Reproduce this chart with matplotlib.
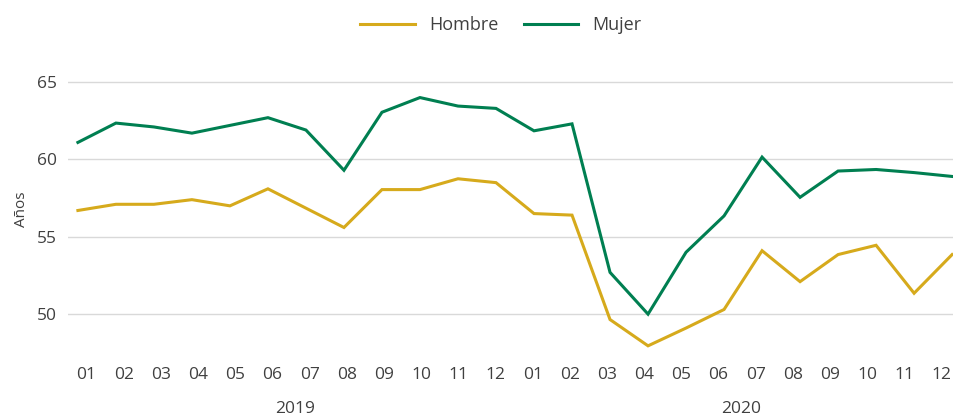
import matplotlib
matplotlib.use('Agg')
import matplotlib.pyplot as plt
import matplotlib.transforms as mtransforms

# data
months = ['01', '02', '03', '04', '05', '06', '07', '08', '09', '10', '11', '12'] * 2
years = ['2019', '2020']
hombre = [56.7, 57.1, 57.1, 57.4, 57.0, 58.1, 56.85, 55.6, 58.05, 58.05, 58.75, 58.5,
          56.5, 56.4, 49.65, 47.95, 49.1, 50.3, 54.1, 52.1, 53.85, 54.45, 51.35, 53.85]
mujer = [61.1, 62.35, 62.1, 61.7, 62.2, 62.7, 61.9, 59.3, 63.05, 64.0, 63.45, 63.3,
         61.85, 62.3, 52.7, 50.0, 54.0, 56.35, 60.15, 57.55, 59.25, 59.35, 59.15, 58.9]

plt.rcParams['font.family'] = ['Open Sans', 'DejaVu Sans']
TXT = '#404040'
YELLOW = '#d6aa1c'
GREEN = '#007f51'

fig = plt.figure(figsize=(9.54, 4.19), dpi=100)
ax = fig.add_axes([0.0713, 0.158, 0.9287, 0.683])

x = list(range(len(months)))
ax.plot(x, hombre, color=YELLOW, lw=2.2, label='Hombre', solid_joinstyle='miter', clip_on=False)
ax.plot(x, mujer, color=GREEN, lw=2.2, label='Mujer', solid_joinstyle='miter', clip_on=False)

ax.set_xlim(-0.26, 23.05)
ax.set_ylim(47.5, 66)
ax.set_yticks([50, 55, 60, 65])
ax.yaxis.grid(True, color='#d9d9d9', lw=1)
ax.set_axisbelow(True)
for s in ax.spines.values():
    s.set_visible(False)

# month labels sit on a slightly tighter pitch than the points, as in the original
lab_pos = [0.978 * i + 0.229 for i in x]
ax.set_xticks(lab_pos)
ax.set_xticklabels(months)
ax.tick_params(axis='both', length=0, labelsize=12.5, colors=TXT)
ax.tick_params(axis='x', pad=10)
ax.tick_params(axis='y', pad=8)

ax.set_ylabel('Años', fontsize=11, color=TXT, labelpad=6)

# year labels under the month ticks
trans = mtransforms.blended_transform_factory(ax.transData, fig.transFigure)
for i, yr in enumerate(years):
    mid = (lab_pos[12 * i] + lab_pos[12 * i + 11]) / 2
    ax.text(mid + 0.1, 0.025, yr, transform=trans, ha='center', va='center',
            fontsize=12.5, color=TXT)

fig.legend(loc='center', bbox_to_anchor=(0.525, 0.94), ncol=2, frameon=False,
           fontsize=13, handlelength=3.0, handletextpad=0.8, columnspacing=1.4,
           labelcolor=TXT)

plt.savefig('out.png', dpi=100)
